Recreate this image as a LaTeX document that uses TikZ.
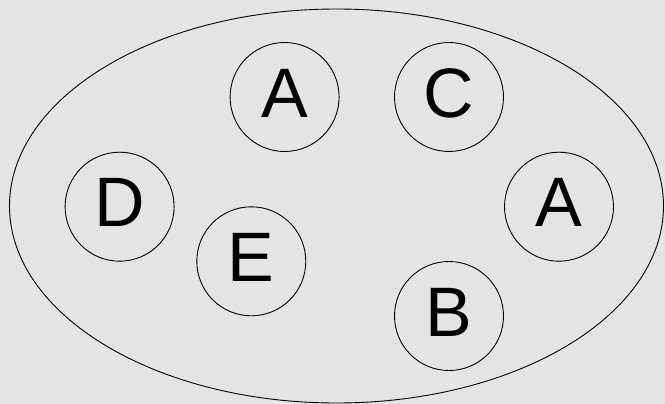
\documentclass[tikz,border=0pt]{standalone}
\usepackage{fontspec}
\setmainfont{Liberation Sans}
\usetikzlibrary{positioning, shapes.geometric}
\definecolor{bggray}{HTML}{E4E4E4}

\begin{document}
\begin{tikzpicture}[x=1pt, y=-1pt, line width=0.9pt,
    elem/.style={draw, circle, minimum size=109pt, inner sep=0pt,
      text depth=8pt, font=\fontsize{70}{70}\selectfont},
    container/.style={draw, ellipse, minimum width=654pt, minimum height=394pt, inner sep=0pt}]
  \fill[bggray] (0,0) rectangle (665,404);
  \useasboundingbox (0,0) rectangle (665,404);
  \node[container] (set) at (336.5,206) {};
  \node[elem] (a1) at (284.6,97) {A};
  \node[elem] (c) at (449,97) {C};
  \node[elem] (d) at (119.6,206.7) {D};
  \node[elem] (e) at (251.3,261.3) {E};
  \node[elem] (a2) at (559,206.7) {A};
  \node[elem] (b) at (449,316) {B};
\end{tikzpicture}
\end{document}
